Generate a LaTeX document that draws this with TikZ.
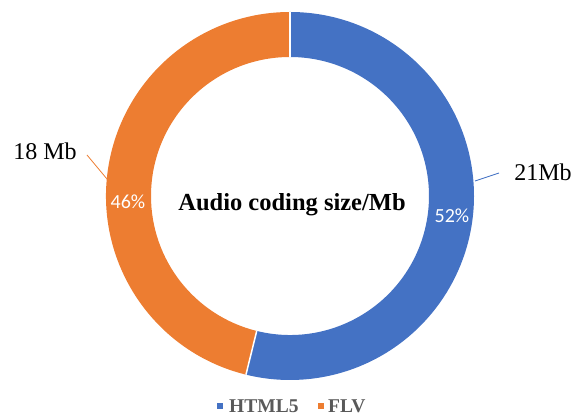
\documentclass[tikz,border=0pt]{standalone}
\usepackage{fontspec}
\setmainfont{Liberation Serif}
\newfontfamily\pctfont{Carlito}
\usetikzlibrary{calc}
\definecolor{hblue}{HTML}{4472C4}
\definecolor{forange}{HTML}{ED7D31}
\definecolor{leggray}{HTML}{595959}
\tikzset{
  pct/.style={text=white, font=\pctfont\fontsize{20}{22}\selectfont, inner sep=0pt},
  vallabel/.style={font=\fontsize{24}{28}\selectfont, inner sep=0pt},
  sep/.style={white, line width=1.5pt},
  legtext/.style={text=leggray, font=\bfseries\fontsize{19.5}{22}\selectfont, inner sep=0pt, anchor=west},
  legbox/.style={minimum size=6pt, inner sep=0pt, anchor=west},
}
\begin{document}
\begin{tikzpicture}[x=1pt,y=1pt]
\useasboundingbox (0,0) rectangle (573,417);
\coordinate (c) at (290,221);
\def\Ro{184}
\def\Ri{139}
\def\Ang{-103.85}
% blue slice
\fill[hblue] ($(c)+(90:\Ro)$) arc[start angle=90, end angle=\Ang, radius=\Ro]
  -- ($(c)+(\Ang:\Ri)$) arc[start angle=\Ang, end angle=90, radius=\Ri] -- cycle;
% orange slice
\fill[forange] ($(c)+(\Ang:\Ro)$) arc[start angle=\Ang, end angle=-270, radius=\Ro]
  -- ($(c)+(90:\Ri)$) arc[start angle=90, end angle=\Ang+360, radius=\Ri] -- cycle;
% separators
\draw[sep] ($(c)+(90:\Ri)$) -- ($(c)+(90:\Ro)$);
\draw[sep] ($(c)+(\Ang:\Ri)$) -- ($(c)+(\Ang:\Ro)$);
% percentage labels
\node[pct] (p52) at (452,201) {52\%};
\node[pct] (p46) at (128,215) {46\%};
% title
\node[font=\bfseries\fontsize{24.5}{28}\selectfont, inner sep=0pt] (title) at (292,212) {Audio coding size/Mb};
% value labels
\node[vallabel] (v21) at (543,245) {21Mb};
\node[vallabel] (v18) at (45,266) {18 Mb};
\coordinate (l21a) at (475,236);
\coordinate (l21b) at (499,244);
\coordinate (l18a) at (107,238);
\coordinate (l18b) at (87,262);
\draw[hblue, line width=0.8pt] (l21a) -- (l21b);
\draw[forange, line width=0.8pt] (l18a) -- (l18b);
% legend
\node[legbox, fill=hblue] (lb1) at (217,11) {};
\node[legtext] (lt1) at (229,11) {HTML5};
\node[legbox, fill=forange] (lb2) at (318,11) {};
\node[legtext] (lt2) at (328,11) {FLV};
\end{tikzpicture}
\end{document}
